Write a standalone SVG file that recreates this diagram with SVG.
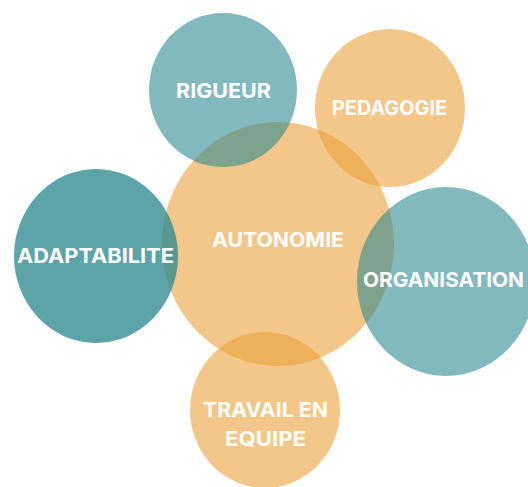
<svg xmlns="http://www.w3.org/2000/svg" width="528" height="487" viewBox="0 0 528 487">
<style>
.or{fill:#E9A23B;fill-opacity:0.6}
.tl{fill:#2E8A90;fill-opacity:0.6}
.td{fill:#2E8A90;fill-opacity:0.78}
text{font-family:Inter,"Open Sans","DejaVu Sans",sans-serif;font-weight:700;font-size:20.5px;fill:#FFFFFF;text-anchor:middle}
</style>
<rect width="528" height="487" fill="#FFFFFF"/>
<g id="node-autonomie"><ellipse class="or" cx="278" cy="244" rx="116" ry="122"/></g>
<g id="node-pedagogie"><ellipse class="or" cx="390" cy="108" rx="75" ry="79"/></g>
<g id="node-travail"><ellipse class="or" cx="265" cy="410" rx="75" ry="78"/></g>
<g id="node-rigueur"><ellipse class="tl" cx="223" cy="90" rx="74" ry="77"/></g>
<g id="node-adaptabilite"><ellipse class="td" cx="96" cy="256" rx="82" ry="87"/></g>
<g id="node-organisation"><ellipse class="tl" cx="446" cy="281.5" rx="89" ry="94.5"/></g>
<g id="connectors"></g>
<g id="labels">
<text x="278" y="247" textLength="132" lengthAdjust="spacingAndGlyphs">AUTONOMIE</text>
<text x="389.5" y="115" textLength="115" lengthAdjust="spacingAndGlyphs">PEDAGOGIE</text>
<text x="223.5" y="98" textLength="95" lengthAdjust="spacingAndGlyphs">RIGUEUR</text>
<text x="95.5" y="263" textLength="157" lengthAdjust="spacingAndGlyphs">ADAPTABILITE</text>
<text x="443.5" y="287" textLength="161" lengthAdjust="spacingAndGlyphs">ORGANISATION</text>
<text x="265.5" y="417" textLength="125" lengthAdjust="spacingAndGlyphs">TRAVAIL EN</text>
<text x="265.5" y="446" textLength="81" lengthAdjust="spacingAndGlyphs">EQUIPE</text>
</g>
</svg>
